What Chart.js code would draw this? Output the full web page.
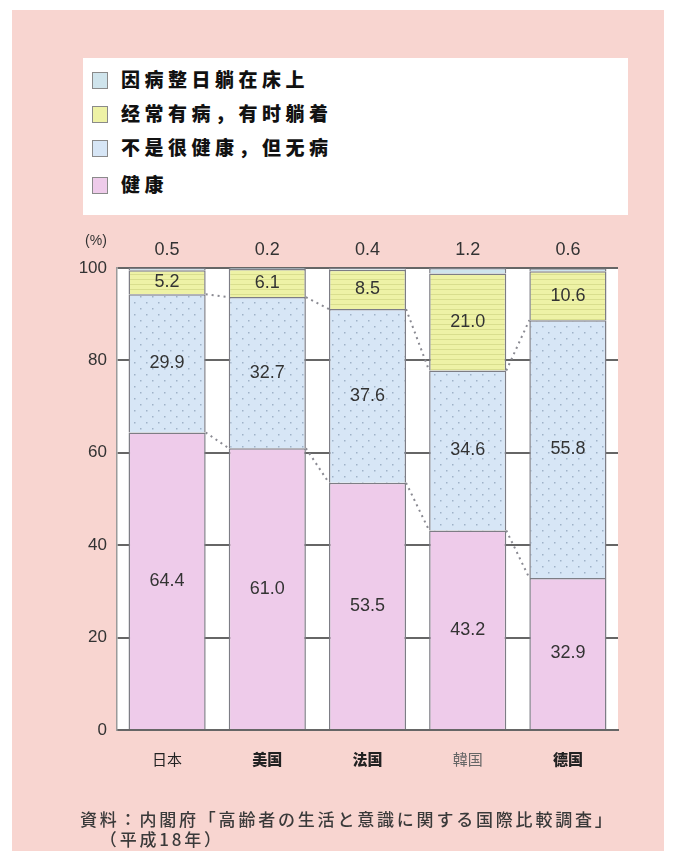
<!DOCTYPE html>
<html><head><meta charset="utf-8">
<script src="https://cdn.jsdelivr.net/npm/chart.js@4.4.1/dist/chart.umd.min.js"></script>
<style>
html,body{margin:0;padding:0;background:#fff;}
#wrap{position:relative;width:676px;height:861px;overflow:hidden;}
#bg{position:absolute;left:12px;top:10px;width:652px;height:841px;background:#f8d5d0;}
#c{position:absolute;left:0;top:0;}
#legend{position:absolute;left:83px;top:58px;width:545px;height:157px;background:#fff;font-family:"Noto Sans CJK SC",sans-serif;font-weight:900;font-size:19px;letter-spacing:4.5px;color:#111;}
.row{position:absolute;left:9px;height:22px;line-height:22px;}
.sw{position:absolute;left:0;top:2px;width:14px;height:15px;border:1.5px solid #8a8a8a;}
.lt{position:absolute;left:29px;top:-2px;white-space:nowrap;}
#src{position:absolute;left:80px;top:809px;font-family:"Noto Sans CJK JP",serif;font-weight:500;font-size:17px;letter-spacing:2.8px;color:#3a3a3a;line-height:20px;}
</style></head>
<body><div id="wrap"><div id="bg"></div><canvas id="c" width="676" height="861"></canvas>
<div id="legend"></div>
<div id="src">資料：内閣府「高齢者の生活と意識に関する国際比較調査」<br>&nbsp;&nbsp;&nbsp;（平成18年）</div>
</div>
<script>
const categories = ['日本','美国','法国','韓国','德国'];
const healthy    = [64.4, 61.0, 53.5, 43.2, 32.9];
const notGreat   = [29.9, 32.7, 37.6, 34.6, 55.8];
const oftenSick  = [5.2, 6.1, 8.5, 21.0, 10.6];
const bedridden  = [0.5, 0.2, 0.4, 1.2, 0.6];
const seriesNames = ['健康','不是很健康，但无病','经常有病，有时躺着','因病整日躺在床上'];
const yTicks = [0,20,40,60,80,100];

function dotPattern(){
  const c=document.createElement('canvas');c.width=12;c.height=12;const g=c.getContext('2d');
  g.fillStyle='#d7e6f6';g.fillRect(0,0,12,12);g.fillStyle='#9fb2c8';
  g.fillRect(2,2,1.5,1.5);g.fillRect(8,8,1.5,1.5);
  return g.createPattern(c,'repeat');
}
function stripePattern(){
  const c=document.createElement('canvas');c.width=8;c.height=5;const g=c.getContext('2d');
  g.fillStyle='#eef2a6';g.fillRect(0,0,8,5);g.fillStyle='#d9de8e';g.fillRect(0,4,8,1);
  return g.createPattern(c,'repeat');
}
const colors = ['#eecbea', dotPattern(), stripePattern(), '#cfe4ec'];
const swatchCss = ['#eecbea','#d7e6f6','#eef2a6','#cfe4ec'];

const lg=document.getElementById('legend');
const tops=[12,46,80,117];
[3,2,1,0].forEach((si,k)=>{
  const r=document.createElement('div');r.className='row';r.style.top=tops[k]+'px';
  r.innerHTML='<div class="sw" style="background:'+swatchCss[si]+'"></div><div class="lt">'+seriesNames[si]+'</div>';
  lg.appendChild(r);
});

const datasets=[healthy,notGreat,oftenSick,bedridden].map((d,i)=>({
  label:seriesNames[i],data:d,backgroundColor:colors[i],borderColor:'#7d7d85',borderWidth:{top:1.5,left:1.5,right:1.5,bottom:0},
  borderSkipped:false,barPercentage:0.77,categoryPercentage:1.0
}));

const plugin={
  id:'extras',
  beforeDraw(chart){
    const a=chart.chartArea,ctx=chart.ctx;
    ctx.save();ctx.fillStyle='#fff';ctx.fillRect(a.left,a.top,a.right-a.left,a.bottom-a.top);ctx.restore();
  },
  afterDatasetsDraw(chart){
    const ctx=chart.ctx;
    ctx.save();ctx.strokeStyle='#8a8a92';ctx.lineWidth=2;ctx.setLineDash([2,4]);
    [0,1].forEach(di=>{
      const els=chart.getDatasetMeta(di).data;
      for(let i=0;i<els.length-1;i++){
        const e1=els[i],e2=els[i+1];
        ctx.beginPath();ctx.moveTo(e1.x+e1.width/2,e1.y);ctx.lineTo(e2.x-e2.width/2,e2.y);ctx.stroke();
      }
    });
    ctx.restore();
    ctx.save();ctx.font='18px "Liberation Sans", Arial, sans-serif';ctx.fillStyle='#333';ctx.textAlign='center';ctx.textBaseline='middle';
    [0,1,2].forEach(di=>{
      chart.getDatasetMeta(di).data.forEach((e,i)=>{
        const v=chart.data.datasets[di].data[i];
        ctx.fillText(v.toFixed(1),e.x,(e.y+e.base)/2);
      });
    });
    const top=chart.scales.y.getPixelForValue(100);
    chart.getDatasetMeta(3).data.forEach((e,i)=>{
      ctx.fillText(chart.data.datasets[3].data[i].toFixed(1),e.x,top-18);
    });
    ctx.font='14px "Liberation Sans", Arial, sans-serif';
    ctx.fillText('(%)',chart.scales.y.left+96,top-27);
    ctx.restore();
  }
};

new Chart(document.getElementById('c'),{
  type:'bar',
  data:{labels:categories,datasets},
  options:{
    responsive:false,animation:false,
    layout:{padding:{top:268,right:58,left:0,bottom:0}},
    plugins:{legend:{display:false},tooltip:{enabled:false}},
    scales:{
      x:{stacked:true,
        grid:{display:false},
        border:{display:true,color:'#666',width:2},
        ticks:{padding:12,color:(c)=>c.index===3?'#666':'#222',
          font:(c)=>({family:'"Noto Sans CJK SC", sans-serif',size:15,weight:[1,2,4].includes(c.index)?'900':'normal'})},
        afterFit:s=>{s.height=131;}
      },
      y:{stacked:true,min:0,max:100,
        afterBuildTicks:s=>{s.ticks=yTicks.map(v=>({value:v}));},
        grid:{color:'#666',lineWidth:2,drawTicks:false},
        border:{display:true,color:'#9a9a9a',width:1.5},
        ticks:{padding:10,color:'#333',font:{family:'"Liberation Sans", Arial, sans-serif',size:17}},
        afterFit:s=>{s.width=117;}
      }
    }
  },
  plugins:[plugin]
});
</script></body></html>
